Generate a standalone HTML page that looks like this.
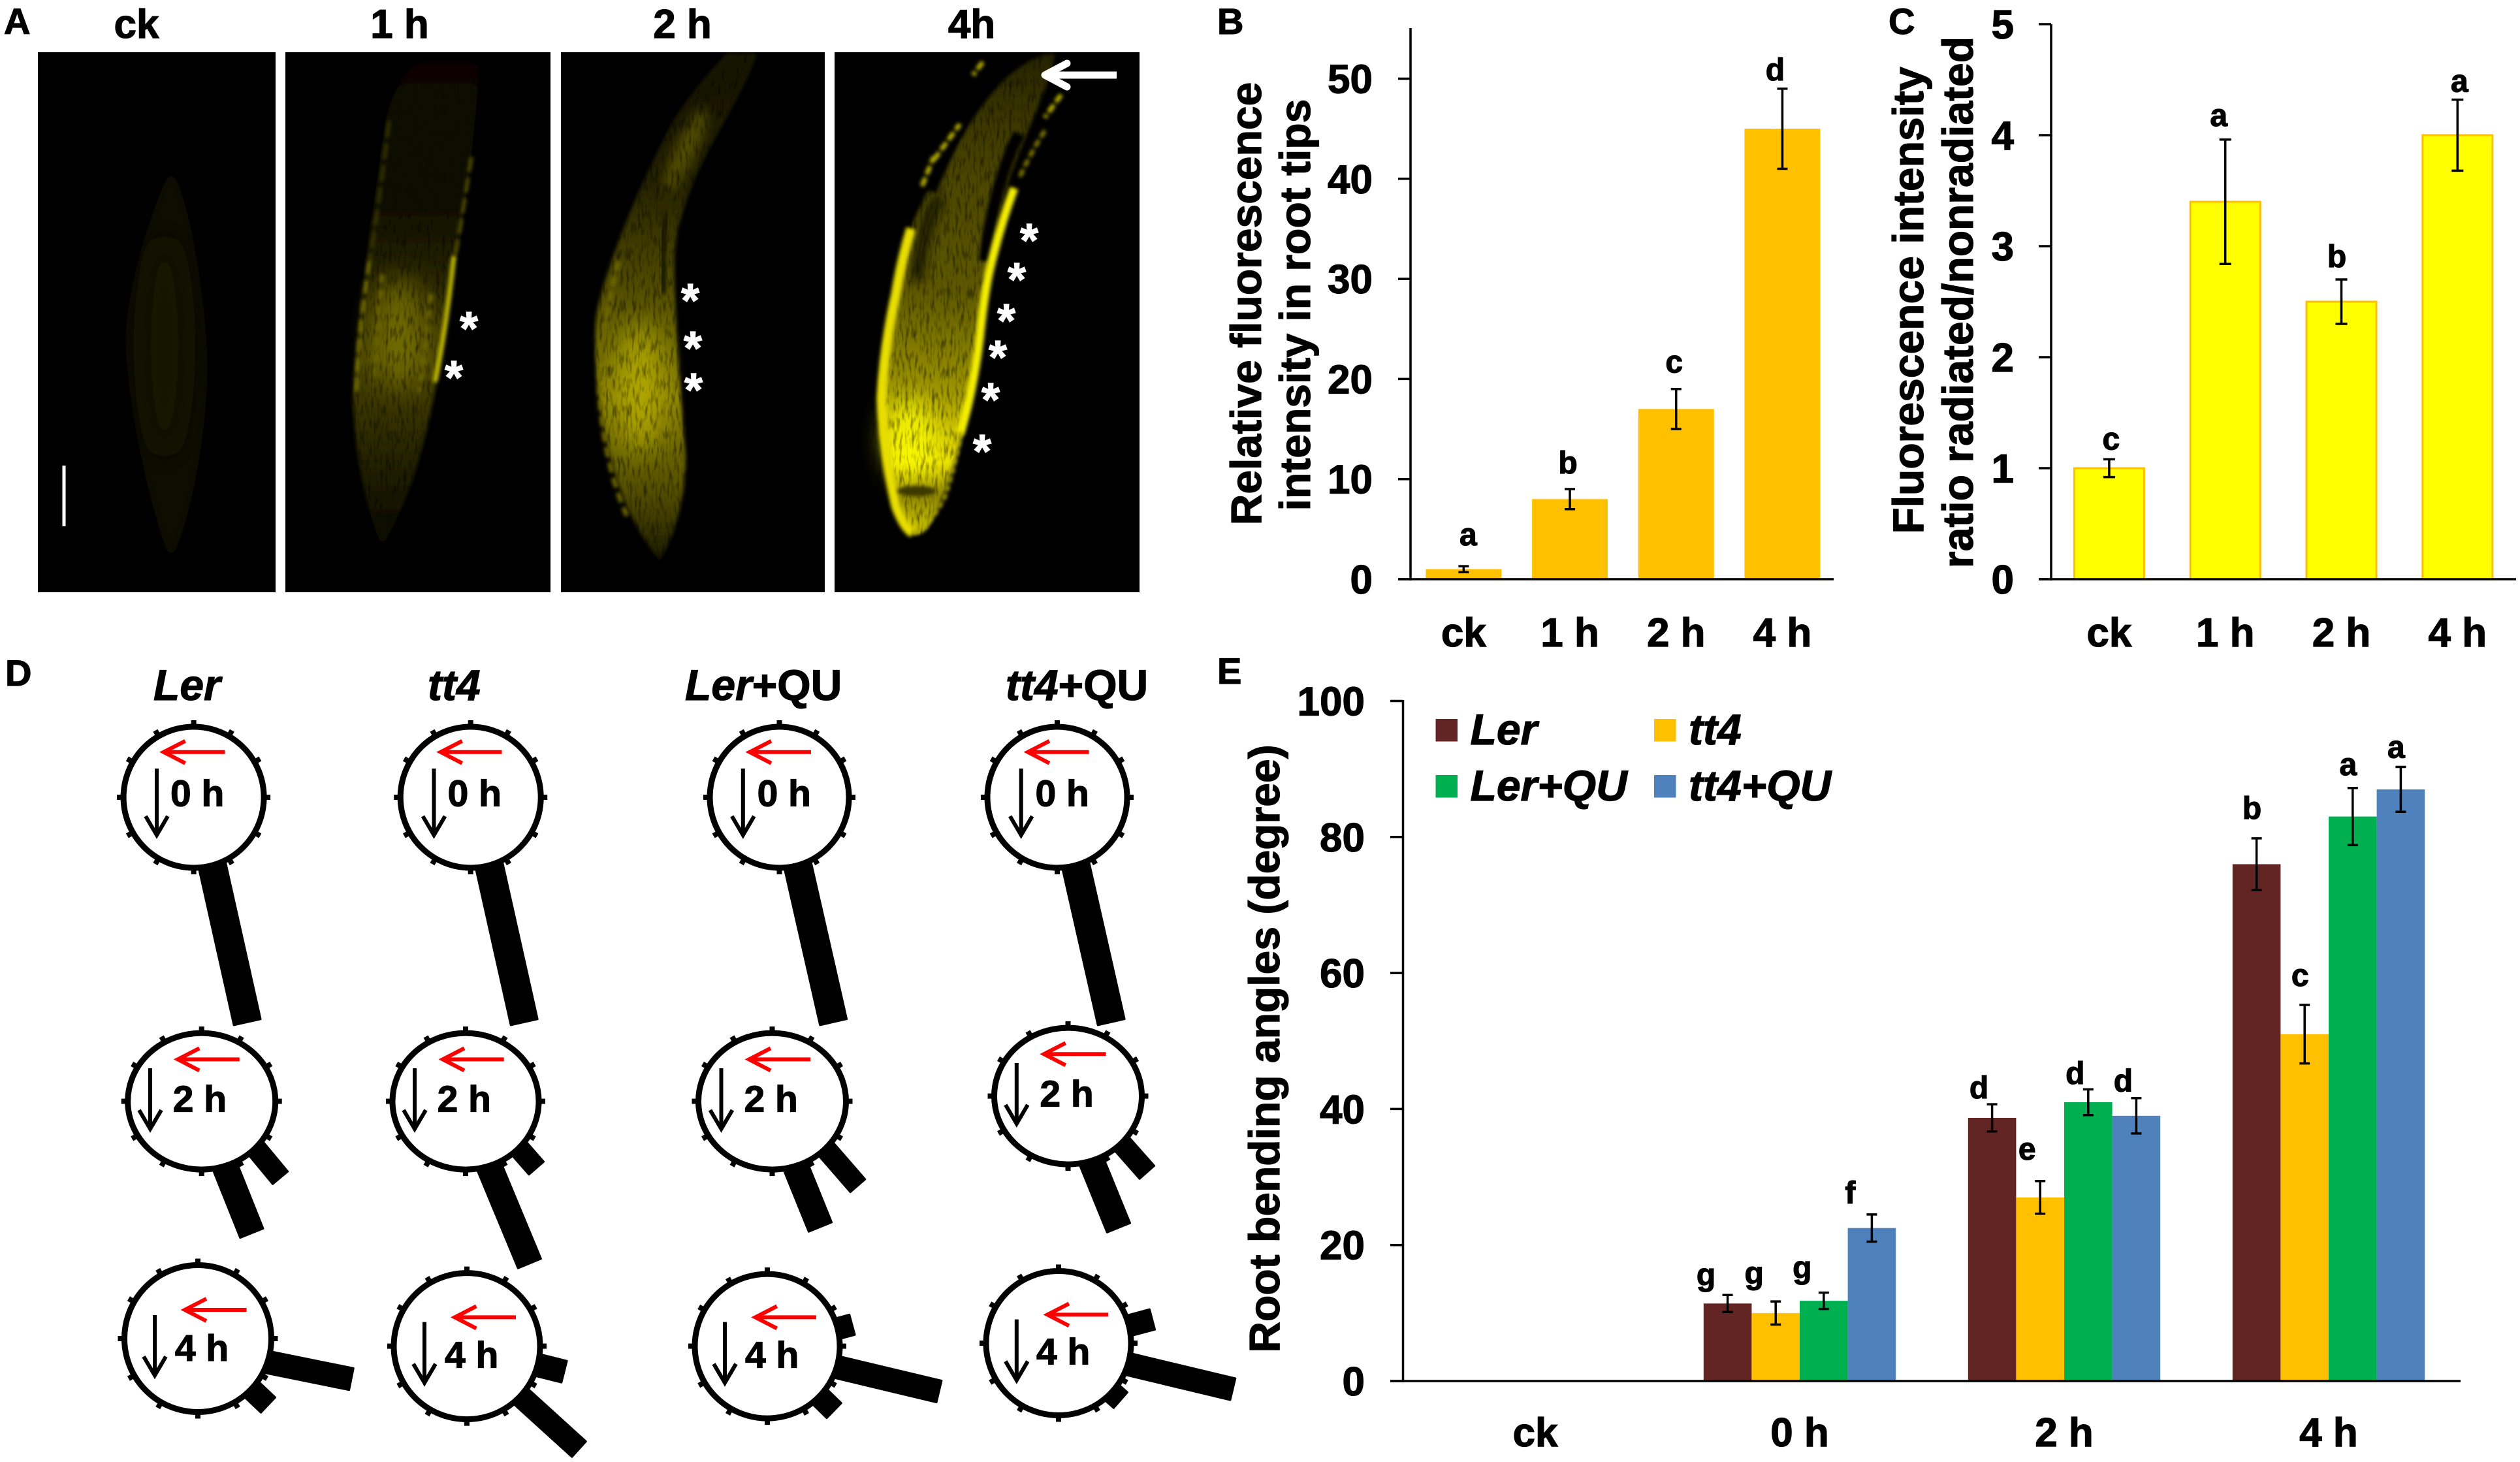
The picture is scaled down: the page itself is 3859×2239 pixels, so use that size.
<!DOCTYPE html>
<html lang="en">
<head>
<meta charset="utf-8">
<title>Root fluorescence and bending angle figure</title>
<style>
html,body{margin:0;padding:0;background:#fff;width:3859px;height:2239px;overflow:hidden}
svg{display:block}
text{font-family:"Liberation Sans",Arial,sans-serif;font-weight:bold;fill:#000;stroke:#000;stroke-width:1.2px}
.star{fill:#fff;stroke:#fff}
</style>
</head>
<body>
<svg id="fig" xmlns="http://www.w3.org/2000/svg" width="3859" height="2239" viewBox="0 0 3859 2239">
<defs>
<filter id="b3" x="-30%" y="-30%" width="160%" height="160%"><feGaussianBlur stdDeviation="3"/></filter>
<filter id="b8" x="-50%" y="-50%" width="200%" height="200%"><feGaussianBlur stdDeviation="8"/></filter>
<filter id="b20" x="-80%" y="-80%" width="260%" height="260%"><feGaussianBlur stdDeviation="20"/></filter>
<filter id="tex" x="-10%" y="-10%" width="120%" height="120%">
  <feGaussianBlur in="SourceGraphic" stdDeviation="3" result="s"/>
  <feTurbulence type="fractalNoise" baseFrequency=".22 .05" numOctaves="2" seed="4" result="n"/>
  <feColorMatrix in="n" type="matrix" values="0 0 0 0 0  0 0 0 0 0  0 0 0 0 0  1.2 0 0 0 .35" result="a"/>
  <feComposite in="s" in2="a" operator="in"/>
</filter>
<linearGradient id="g1h" gradientUnits="userSpaceOnUse" x1="0" y1="82" x2="0" y2="836">
<stop offset="0" stop-color="#060500"/><stop offset=".3" stop-color="#0e0d00"/><stop offset=".45" stop-color="#262300"/><stop offset=".62" stop-color="#4a4500"/><stop offset=".85" stop-color="#201e00"/><stop offset="1" stop-color="#060500"/>
</linearGradient>
<linearGradient id="g2h" gradientUnits="userSpaceOnUse" x1="0" y1="82" x2="0" y2="857">
<stop offset="0" stop-color="#141200"/><stop offset=".25" stop-color="#242100"/><stop offset=".45" stop-color="#4e4900"/><stop offset=".68" stop-color="#8a8200"/><stop offset=".88" stop-color="#4e4900"/><stop offset="1" stop-color="#1c1a00"/>
</linearGradient>
<linearGradient id="g4h" gradientUnits="userSpaceOnUse" x1="0" y1="82" x2="0" y2="818">
<stop offset="0" stop-color="#262300"/><stop offset=".25" stop-color="#4a4500"/><stop offset=".5" stop-color="#5f5900"/><stop offset=".7" stop-color="#9c9400"/><stop offset=".85" stop-color="#ece200"/><stop offset=".92" stop-color="#8c8400"/><stop offset="1" stop-color="#d8d000"/>
</linearGradient>
<clipPath id="clip-ck"><rect x="58" y="80" width="364" height="827"/></clipPath>
<clipPath id="clip-1h"><rect x="437" y="80" width="406" height="827"/></clipPath>
<clipPath id="clip-2h"><rect x="859" y="80" width="404" height="827"/></clipPath>
<clipPath id="clip-4h"><rect x="1278" y="80" width="467" height="827"/></clipPath>
</defs>

<g>
  <text x="6" y="52" font-size="56">A</text>
  <text x="209" y="58" font-size="62" text-anchor="middle">ck</text>
  <text x="612" y="58" font-size="62" text-anchor="middle">1 h</text>
  <text x="1045" y="58" font-size="62" text-anchor="middle">2 h</text>
  <text x="1488" y="58" font-size="62" text-anchor="middle">4h</text>

  <g clip-path="url(#clip-ck)">
    <rect x="58" y="80" width="364" height="827" fill="#000"/>
    <path d="M262,260 C290,300 316,460 318,560 C316,680 290,800 262,860 C236,800 196,640 192,520 C196,420 240,300 262,260 Z" fill="#0a0900" filter="url(#b8)"/>
    <ellipse cx="252" cy="530" rx="34" ry="170" fill="#191700" filter="url(#b20)"/>
  </g>

  <g clip-path="url(#clip-1h)">
    <rect x="437" y="80" width="406" height="827" fill="#000"/>
    <g filter="url(#tex)">
      <path d="M650,82 L735,82 C730,200 708,360 690,430 C680,540 660,640 643,697 C630,750 600,815 585,836 C565,790 545,720 540,606 C545,520 575,280 591,182 C600,140 625,100 650,82 Z" fill="url(#g1h)"/>
      <ellipse cx="612" cy="510" rx="40" ry="85" fill="#807800" opacity=".75" filter="url(#b20)"/>
    </g>
    <path d="M596,185 Q582,300 566,400" fill="none" stroke="#3a3700" stroke-width="5" stroke-dasharray="26 8" filter="url(#b3)"/>
    <path d="M566,400 Q548,510 546,600" fill="none" stroke="#7c7400" stroke-width="5" stroke-dasharray="20 10" filter="url(#b3)"/>
    <path d="M722,240 Q708,330 697,392" fill="none" stroke="#5a5500" stroke-width="5" stroke-dasharray="24 8" filter="url(#b3)"/>
    <path d="M695,392 Q685,490 666,585" fill="none" stroke="#c8c000" stroke-width="7" filter="url(#b3)"/>
    <path d="M585,420 L573,590 M660,450 L642,600" fill="none" stroke="#6a6400" stroke-width="7" stroke-dasharray="14 10" filter="url(#b3)"/>
  </g>

  <g clip-path="url(#clip-2h)">
    <rect x="859" y="80" width="404" height="827" fill="#000"/>
    <g filter="url(#tex)">
      <path d="M1113,82 L1159,82 C1150,120 1100,200 1079,242 C1050,300 1035,350 1033,394 C1032,470 1042,600 1050,697 C1052,760 1030,830 1010,857 C985,830 950,770 930,680 C915,620 908,540 913,485 C925,410 985,270 1033,182 C1060,140 1090,105 1113,82 Z" fill="url(#g2h)"/>
      <ellipse cx="980" cy="595" rx="32" ry="100" fill="#bcb200" opacity=".8" filter="url(#b20)"/>
      <ellipse cx="1050" cy="230" rx="16" ry="70" fill="#5c5600" opacity=".8" filter="url(#b8)" transform="rotate(25 1050 230)"/>
    </g>
    <path d="M1020,330 Q1012,390 1016,450" fill="none" stroke="#141300" stroke-width="8" filter="url(#b3)"/>
    <path d="M948,400 Q925,470 918,600 Q925,710 960,790" fill="none" stroke="#6e6800" stroke-width="7" stroke-dasharray="16 8" filter="url(#b3)"/>
  </g>

  <g clip-path="url(#clip-4h)">
    <rect x="1278" y="80" width="467" height="827" fill="#000"/>
    <g filter="url(#tex)">
      <path d="M1530,130 C1560,100 1590,82 1615,82 C1610,130 1570,200 1540,290 C1520,370 1505,470 1491,581 C1482,650 1450,760 1421,808 C1412,818 1405,820 1398,818 C1375,790 1352,700 1346,607 C1350,520 1375,430 1391,360 C1420,280 1480,190 1530,130 Z" fill="url(#g4h)"/>
      <ellipse cx="1394" cy="672" rx="36" ry="60" fill="#ffff00" opacity=".85" filter="url(#b20)"/>
    </g>
    <path d="M1560,205 Q1520,290 1508,400" fill="none" stroke="#060500" stroke-width="18" filter="url(#b3)"/>
    <path d="M1480,160 Q1440,240 1420,290" fill="none" stroke="#000" stroke-width="30" filter="url(#b3)"/>
    <path d="M1438,300 Q1410,360 1404,430" fill="none" stroke="#151300" stroke-width="18" filter="url(#b8)"/>
    <path d="M1600,200 Q1575,240 1560,275" fill="none" stroke="#8a8200" stroke-width="6" stroke-dasharray="12 5" filter="url(#b3)"/>
    <path d="M1553,288 Q1530,350 1514,420 Q1506,460 1500,520 Q1490,600 1470,665" fill="none" stroke="#f4ee00" stroke-width="13" filter="url(#b3)"/>
    <path d="M1395,350 Q1380,400 1372,450 Q1354,530 1350,610 Q1352,690 1372,775 Q1385,810 1398,816" fill="none" stroke="#e8de00" stroke-width="15" filter="url(#b3)"/>
    <path d="M1398,816 Q1425,805 1447,760 Q1462,715 1472,660" fill="none" stroke="#b0a800" stroke-width="6" stroke-dasharray="10 4" filter="url(#b3)"/>
    <ellipse cx="1404" cy="752" rx="30" ry="8" fill="#3a3700" filter="url(#b3)"/>
    <path d="M1412,285 L1430,240 M1430,245 L1470,190 M1505,95 L1490,115 M1625,145 L1600,180" fill="none" stroke="#b8b000" stroke-width="7" stroke-dasharray="14 5" filter="url(#b3)"/>
  </g>

  <rect x="95.5" y="713" width="5" height="93" fill="#fff"/>
  <g fill="none" stroke="#fff" stroke-width="11" stroke-linecap="round" stroke-linejoin="round">
    <path d="M1602,115 L1710,115" stroke-linecap="butt"/>
    <path d="M1634,97 L1600,115 L1634,133"/>
  </g>
  <g font-size="72" text-anchor="middle">
    <text class="star" x="718" y="528">*</text>
    <text class="star" x="695" y="603">*</text>
    <text class="star" x="1057" y="485">*</text>
    <text class="star" x="1061" y="558">*</text>
    <text class="star" x="1062" y="622">*</text>
    <text class="star" x="1576" y="393">*</text>
    <text class="star" x="1557" y="453">*</text>
    <text class="star" x="1541" y="516">*</text>
    <text class="star" x="1528" y="572">*</text>
    <text class="star" x="1517" y="637">*</text>
    <text class="star" x="1504" y="716">*</text>
  </g>
</g>

<g id="panel-b">
  <text x="1864" y="52" font-size="56">B</text>
  <text font-size="66" text-anchor="middle" transform="translate(1931 465) rotate(-90)">Relative fluorescence</text>
  <text font-size="66" text-anchor="middle" transform="translate(2006 467) rotate(-90)">intensity in root tips</text>
</g>
<g id="panel-c">
  <text x="2892" y="52" font-size="56">C</text>
  <text font-size="66" text-anchor="middle" transform="translate(2945 460) rotate(-90)">Fluorescence intensity</text>
  <text font-size="66" text-anchor="middle" transform="translate(3021 463) rotate(-90)">ratio radiated/nonradiated</text>
</g>
<g id="panel-d">
  <text x="8" y="1050" font-size="56">D</text>
  <text x="235" y="1072" font-size="66" font-style="italic">Ler</text>
  <text x="655" y="1072" font-size="66" font-style="italic">tt4</text>
  <text x="1049" y="1072" font-size="66"><tspan font-style="italic">Ler</tspan>+QU</text>
  <text x="1540" y="1072" font-size="66"><tspan font-style="italic">tt4</tspan>+QU</text>
</g>
<g id="panel-e">
  <text x="1864" y="1047" font-size="56">E</text>
  <text font-size="66" text-anchor="middle" transform="translate(1959 1606) rotate(-90)">Root bending angles (degree)</text>
</g>
</svg>

<script>
// Panel B data
const bCategories = ['ck', '1 h', '2 h', '4 h'];
const bValues = [1, 8, 17, 45];
const bErrors = [0.3, 1, 2, 4];
const bLetters = ['a', 'b', 'c', 'd'];
const bTicks = [0, 10, 20, 30, 40, 50];

// Panel C data
const cCategories = ['ck', '1 h', '2 h', '4 h'];
const cValues = [1, 3.4, 2.5, 4];
const cErrors = [0.08, 0.56, 0.2, 0.32];
const cLetters = ['c', 'a', 'b', 'a'];
const cTicks = [0, 1, 2, 3, 4, 5];

// Panel E data
const eCategories = ['ck', '0 h', '2 h', '4 h'];
const eSeriesNames = ['Ler', 'tt4', 'Ler+QU', 'tt4+QU'];
const eLer = [0, 11.4, 38.7, 76];
const eTt4 = [0, 10, 27, 51];
const eLerQu = [0, 11.8, 41, 83];
const eTt4Qu = [0, 22.5, 39, 87];
const eLerErr = [0, 1.25, 2, 3.8];
const eTt4Err = [0, 1.7, 2.4, 4.3];
const eLerQuErr = [0, 1.2, 1.9, 4.2];
const eTt4QuErr = [0, 2, 2.6, 3.3];
const eLerLetters = ['', 'g', 'd', 'b'];
const eTt4Letters = ['', 'g', 'e', 'c'];
const eLerQuLetters = ['', 'g', 'd', 'a'];
const eTt4QuLetters = ['', 'f', 'd', 'a'];
const eTicks = [0, 20, 40, 60, 80, 100];

// Panel D data: rose-diagram sectors, per treatment and time point
const roseTreatments = ['ler', 'tt4', 'ler-qu', 'tt4-qu'];
const roseTimes = ['0 h', '2 h', '4 h'];
// each sector: angle clockwise from straight down at the ring (deg), angle at the far end (deg), reach (px)
const roseLer = [[[15.4, 13.4, 354]], [[18.3, 20.8, 216], [47.3, 45.8, 168]], [[71, 75.2, 243], [46.6, 46.6, 148]]];
const roseTt4 = [[[15.4, 13.4, 354]], [[18.5, 21.5, 267], [47, 46.6, 149]], [[75, 75.3, 154], [47, 47.4, 233]]];
const roseLerQu = [[[15.4, 13.5, 354]], [[18.3, 20.9, 206], [46.5, 45.4, 184]], [[73, 75.2, 272], [104, 104.2, 134], [46, 46, 142]]];
const roseTt4Qu = [[[15.4, 13.5, 354]], [[18.3, 21, 216], [46.5, 46, 168]], [[73, 75.2, 276], [104, 104.2, 148], [47, 47.4, 129]]];

const NS = 'http://www.w3.org/2000/svg';
function make(tag, attrs, parent) {
  const el = document.createElementNS(NS, tag);
  for (const k in attrs) el.setAttribute(k, attrs[k]);
  parent.appendChild(el);
  return el;
}
function label(parent, x, y, str, size, anchor) {
  const el = make('text', { x: x, y: y, 'font-size': size, 'text-anchor': anchor || 'middle' }, parent);
  el.textContent = str;
  return el;
}
function errorBar(parent, x, yTop, yBottom, lw, cap, name) {
  const g = make('g', { stroke: '#000', 'stroke-width': lw, fill: 'none' }, parent);
  
  
  make('path', { d: 'M' + x + ' ' + yTop + 'V' + yBottom + 'M' + (x - cap) + ' ' + yTop + 'H' + (x + cap) + 'M' + (x - cap) + ' ' + yBottom + 'H' + (x + cap) }, g);
}

/* ---------- Panel B ---------- */
(function () {
  const root = document.getElementById('panel-b');
  const y = v => 887 - v * 15.33;
  const x = i => 2160 + (i + 0.5) * 162.7;
  const barW = 116;
  const letterGap = [32, 24, 25, 13];
  const letterDx = [7, -3, -3, -11];
  bValues.forEach((v, i) => {
    const bar = make('rect', { x: x(i) - barW / 2, y: y(v), width: barW, height: 887 - y(v), fill: '#FFC000' }, root);
    
    
    errorBar(root, x(i), y(v + bErrors[i]), y(v - bErrors[i]), 3.5, 8, 'error-bar-' + bCategories[i].replace(' ', ''));
    const sig = label(root, x(i) + letterDx[i], y(v + bErrors[i]) - letterGap[i], bLetters[i], 48);
    
    
    const cat = label(root, x(i), 990, bCategories[i], 62);
    
    
  });
  const axisY = make('path', { d: 'M2160 43V889', stroke: '#000', 'stroke-width': 3.5, fill: 'none' }, root);
  
  
  const axisX = make('path', { d: 'M2141 887H2808', stroke: '#000', 'stroke-width': 3.5, fill: 'none' }, root);
  
  
  bTicks.forEach(t => {
    const tick = make('path', { d: 'M2141 ' + y(t) + 'H2160', stroke: '#000', 'stroke-width': 3.5 }, root);
    
    
    const tl = label(root, 2102, y(t) + 22, t, 62, 'end');
    
    
  });
})();

/* ---------- Panel C ---------- */
(function () {
  const root = document.getElementById('panel-c');
  const y = v => 887 - v * 170;
  const x = i => 3141 + (i + 0.5) * 177.8;
  const barW = 107;
  const letterGap = [15, 21, 19, 12];
  const letterDx = [3, -10, -7, 3];
  cValues.forEach((v, i) => {
    const bar = make('rect', { x: x(i) - barW / 2, y: y(v), width: barW, height: 887 - y(v), fill: '#FFFF00', stroke: '#FFC000', 'stroke-width': 3 }, root);
    
    
    errorBar(root, x(i), y(v + cErrors[i]), y(v - cErrors[i]), 3.5, 9, 'error-bar-' + cCategories[i].replace(' ', ''));
    const sig = label(root, x(i) + letterDx[i], y(v + cErrors[i]) - letterGap[i], cLetters[i], 48);
    
    
    const cat = label(root, x(i), 990, cCategories[i], 62);
    
    
  });
  const axisY = make('path', { d: 'M3141 37V889', stroke: '#000', 'stroke-width': 3.5, fill: 'none' }, root);
  
  
  const axisX = make('path', { d: 'M3122 887H3853', stroke: '#000', 'stroke-width': 3.5, fill: 'none' }, root);
  
  
  cTicks.forEach(t => {
    const tick = make('path', { d: 'M3122 ' + y(t) + 'H3141', stroke: '#000', 'stroke-width': 3.5 }, root);
    
    
    const tl = label(root, 3084, y(t) + 22, t, 62, 'end');
    
    
  });
})();

/* ---------- Panel D ---------- */
(function () {
  const root = document.getElementById('panel-d');
  // layout of each ring on the page: [cx, cy, rx, ry, red arrow x tip, red arrow x tail, red arrow y, black x, black y1, black y2, text x, text baseline]
  const layout = [
    [[296.6, 1221, 107.5, 108, 250.6, 344.4, 1151.8, 240, 1177, 1279, 261, 1234.5],
     [308.7, 1686.6, 113, 104.5, 272.3, 366.7, 1622.4, 230, 1636, 1729, 264.7, 1702.7],
     [303, 2050, 112.5, 112.5, 283, 377.6, 2006, 237, 2014, 2106.5, 267.9, 2084]],
    [[720.7, 1221, 107.5, 108, 674.7, 768.5, 1151.8, 664.5, 1177, 1279, 685.6, 1234.5],
     [713, 1686.6, 112, 104.5, 678, 771.7, 1622.4, 635, 1636, 1729, 669.6, 1702.7],
     [715, 2061.6, 112, 112, 696.4, 790, 2017.4, 650, 2024.6, 2117.8, 681, 2094.5]],
    [[1193.5, 1221, 106.5, 108, 1148, 1242, 1151.8, 1137.8, 1177, 1279, 1159.6, 1234.5],
     [1182.5, 1686.6, 113, 104.5, 1147, 1241, 1622.4, 1104.5, 1636, 1729, 1139.5, 1702.7],
     [1175, 2061.6, 111, 110.5, 1156.7, 1250, 2017.4, 1110, 2024.6, 2117.8, 1141, 2094.5]],
    [[1619, 1221, 107, 108, 1574, 1667.6, 1151.8, 1563.7, 1177, 1279, 1585.5, 1234.5],
     [1635.5, 1678.6, 113, 104.5, 1598.7, 1693.5, 1614.3, 1556.8, 1628, 1721, 1592.4, 1694.6],
     [1621, 2057, 111, 110.5, 1604, 1697, 2013.4, 1556.8, 2020.6, 2113.8, 1587, 2089.7]]
  ];
  const sectorWidths = [[45], [41, 33], [37, 35, 35]];
  const roseData = [roseLer, roseTt4, roseLerQu, roseTt4Qu];
  roseTreatments.forEach((treatment, c) => {
    roseTimes.forEach((time, r) => {
      const L = layout[c][r];
      const cx = L[0], cy = L[1], rx = L[2], ry = L[3];
      const g = make('g', {}, root);
      
      
      roseData[c][r].forEach((s, i) => {
        const tn = s[0] * Math.PI / 180, tf = s[1] * Math.PI / 180, reach = s[2];
        const x0 = cx + Math.sin(tn) * rx * 0.96, y0 = cy + Math.cos(tn) * ry * 0.96;
        const x1 = cx + Math.sin(tf) * reach, y1 = cy + Math.cos(tf) * reach;
        const len = Math.hypot(x1 - x0, y1 - y0);
        const w = (sectorWidths[r][i] || 35) - 3;
        const nx = -(y1 - y0) / len * w / 2, ny = (x1 - x0) / len * w / 2;
        const pts = [[x0 + nx, y0 + ny], [x1 + nx, y1 + ny], [x1 - nx, y1 - ny], [x0 - nx, y0 - ny]].map(p => p[0].toFixed(1) + ',' + p[1].toFixed(1)).join(' ');
        const sector = make('polygon', { points: pts, fill: '#000', stroke: '#000', 'stroke-width': 3, 'stroke-linejoin': 'round' }, g);
        
        
      });
      const ring = make('ellipse', { cx: cx, cy: cy, rx: rx, ry: ry, fill: '#fff', stroke: '#000', 'stroke-width': 9 }, g);
      
      
      for (let a = 0; a < 360; a += 30) {
        const ar = a * Math.PI / 180;
        const tick = make('line', {
          x1: cx + Math.sin(ar) * rx, y1: cy + Math.cos(ar) * ry,
          x2: cx + Math.sin(ar) * (rx + 10), y2: cy + Math.cos(ar) * (ry + 10),
          stroke: '#000', 'stroke-width': 8
        }, g);
        
        
      }
      const red = make('path', {
        d: 'M' + L[5] + ' ' + L[6] + 'H' + (L[4] + 3) + 'M' + (L[4] + 33) + ' ' + (L[6] - 17) + 'L' + L[4] + ' ' + L[6] + 'L' + (L[4] + 33) + ' ' + (L[6] + 17),
        fill: 'none', stroke: '#FF0000', 'stroke-width': 6
      }, g);
      
      
      const black = make('path', {
        d: 'M' + L[7] + ' ' + L[8] + 'V' + (L[9] - 3) + 'M' + (L[7] - 17) + ' ' + (L[9] - 29) + 'L' + L[7] + ' ' + L[9] + 'L' + (L[7] + 17) + ' ' + (L[9] - 29),
        fill: 'none', stroke: '#000', 'stroke-width': 6
      }, g);
      
      
      const t = label(g, L[10], L[11], time, 57, 'start');
      
      
    });
  });
})();

/* ---------- Panel E ---------- */
(function () {
  const root = document.getElementById('panel-e');
  const y = v => 2115 - v * 10.415;
  const x = (g, s) => 2148.5 + (g + 0.5) * 405 + (s - 1.5) * 73.6;
  const barW = 73.6;
  const colors = ['#632523', '#FFC000', '#00B050', '#4F81BD'];
  const values = [eLer, eTt4, eLerQu, eTt4Qu];
  const errors = [eLerErr, eTt4Err, eLerQuErr, eTt4QuErr];
  const letters = [eLerLetters, eTt4Letters, eLerQuLetters, eTt4QuLetters];
  const groupDx = [0, -33, -20, -7];
  const letterGap = [[0, 15, 9, 30], [0, 27, 33, 29], [0, 22, 8, 20], [0, 17, 10, 14]];
  values.forEach((series, s) => {
    series.forEach((v, g) => {
      if (v <= 0) return;
      const bar = make('rect', { x: x(g, s) - barW / 2, y: y(v), width: barW, height: 2115 - y(v), fill: colors[s] }, root);
      
      
    });
  });
  values.forEach((series, s) => {
    series.forEach((v, g) => {
      if (v <= 0) return;
      const e = errors[s][g];
      errorBar(root, x(g, s), y(v + e), y(v - e), 3.5, 8, 'error-bar-' + eSeriesNames[s] + '-' + eCategories[g].replace(' ', ''));
      const sig = label(root, x(g, s) + groupDx[g], y(v + e) - letterGap[s][g], letters[s][g], 48);
      
      
    });
  });
  eCategories.forEach((c, g) => {
    const cat = label(root, x(g, 1.5), 2215, c, 62);
    
    
  });
  const axisY = make('path', { d: 'M2148.5 1072V2117', stroke: '#000', 'stroke-width': 3.5, fill: 'none' }, root);
  
  
  const axisX = make('path', { d: 'M2129 2115H3768', stroke: '#000', 'stroke-width': 3.5, fill: 'none' }, root);
  
  
  eTicks.forEach(t => {
    const tick = make('path', { d: 'M2129 ' + y(t) + 'H2148.5', stroke: '#000', 'stroke-width': 3.5 }, root);
    
    
    const tl = label(root, 2090, y(t) + 22, t, 62, 'end');
    
    
  });
  // legend, two columns by two rows
  eSeriesNames.forEach((n, i) => {
    const col = i % 2, row = Math.floor(i / 2);
    const sx = col ? 2533 : 2198.5;
    const sy = row ? 1187 : 1101;
    const sw = make('rect', { x: sx, y: sy, width: 33.5, height: 34.5, fill: colors[i] }, root);
    
    
    const lt = label(root, sx + 53, sy + 39, n, 66, 'start');
    lt.setAttribute('font-style', 'italic');
    
    
  });
})();
</script>
</body>
</html>
